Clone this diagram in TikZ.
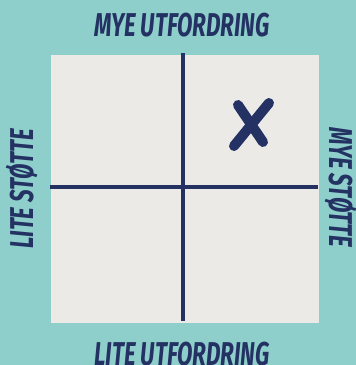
\documentclass[tikz,border=0pt]{standalone}
\usepackage{fontspec}
\newfontfamily\axisfont[FakeStretch=0.68]{Fira Sans}
\usetikzlibrary{positioning}
\definecolor{bgTeal}{HTML}{8FCFCB}
\definecolor{paneGrey}{HTML}{EBEAE7}
\definecolor{inkNavy}{HTML}{233163}
\tikzset{
  axlab/.style = {font=\axisfont\fontsize{33}{33}\selectfont\bfseries\itshape,
                  text=inkNavy, inner sep=0pt},
  axline/.style = {draw=inkNavy, line width=4.5pt},
  cross/.style = {draw=inkNavy, line width=10pt, line cap=round},
}
\begin{document}
\begin{tikzpicture}[x=1pt, y=-1pt]
  \fill[bgTeal] (0,0) rectangle (356,365);
  \useasboundingbox (0,0) rectangle (356,365);
  % matrix pane
  \fill[paneGrey] (51,55) rectangle (319,323);
  \coordinate (vtop) at (183,53);
  \coordinate (vbot) at (183,321);
  \coordinate (hleft) at (50,187);
  \coordinate (hright) at (318,187);
  \draw[axline] (vtop) -- (vbot);
  \draw[axline] (hleft) -- (hright);
  % the mark
  \coordinate (xa) at (238,105);
  \coordinate (xb) at (263,142);
  \coordinate (xc) at (269,103);
  \coordinate (xd) at (234,146);
  \draw[cross] (xa) -- (xb);
  \draw[cross] (xc) -- (xd);
  % axis labels
  \node[axlab] (top) at (182,25) {MYE UTFORDRING};
  \node[axlab] (bottom) at (182,354) {LITE UTFORDRING};
  \node[axlab, rotate=90] (left) at (22,189) {LITE STØTTE};
  \node[axlab, rotate=-90] (right) at (341,187) {MYE STØTTE};
\end{tikzpicture}
\end{document}
